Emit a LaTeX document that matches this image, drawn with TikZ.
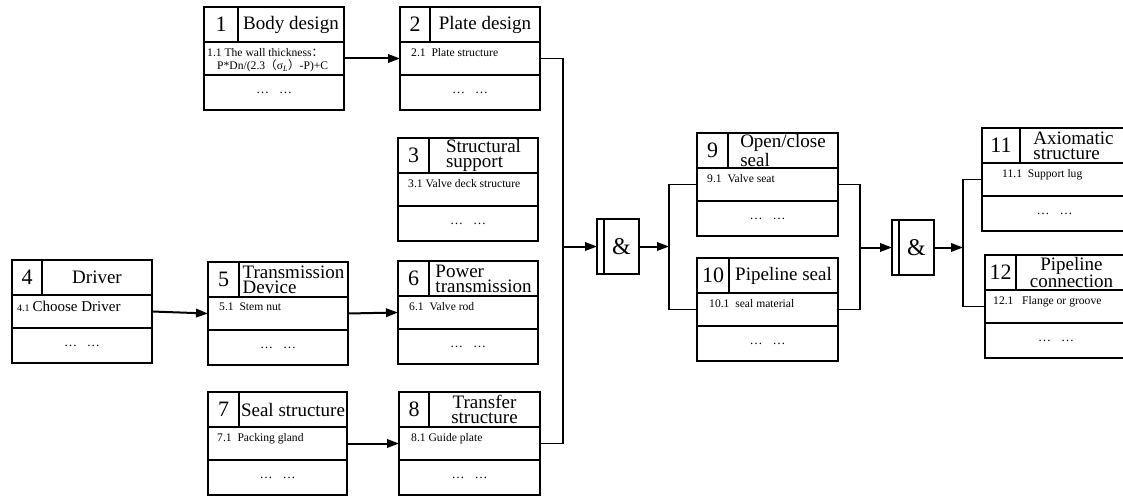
\documentclass[tikz,border=0pt]{standalone}
\usepackage{fontspec}
\setmainfont{Liberation Serif}
\newfontfamily\cjkfont{Noto Sans CJK SC}
\usetikzlibrary{arrows.meta,positioning}

\tikzset{
  cell/.style={draw, line width=2.2pt, inner sep=0pt, outer sep=0pt},
  numcell/.style={cell, minimum height=35pt, font=\fontsize{22}{22}\selectfont},
  titlecell/.style={cell, minimum height=35pt, font=\fontsize{19}{15}\selectfont},
  itemcell/.style={cell, minimum height=33pt},
  dotcell/.style={cell, minimum height=35pt, font=\fontsize{13}{13}\selectfont},
  itemtext/.style={anchor=north west, inner sep=0pt, align=left, font=\fontsize{11.6}{13.5}\selectfont},
  gatestrip/.style={cell, minimum width=7pt, minimum height=55pt},
  gatecell/.style={cell, minimum width=35pt, minimum height=55pt, font=\fontsize{24}{24}\selectfont},
  link/.style={line width=1.2pt},
  flow/.style={line width=2pt, -{Triangle[length=12pt,width=8.5pt]}}
}

% #1 name, #2 position, #3 number width, #4 width, #5 number,
% #6 title alignment, #7 title, #8 item text, #9 item indent
\newcommand{\partbox}[9]{%
  \node[numcell, minimum width=#3pt, anchor=north west] (#1n) at #2 {#5};
  \node[titlecell, minimum width=#4pt-#3pt, anchor=north west, align=#6] (#1t) at (#1n.north east) {#7};
  \node[itemcell, minimum width=#4pt, anchor=north west] (#1) at (#1n.south west) {};
  \node[itemtext] (#1x) at ([xshift=#9pt, yshift=-6pt]#1.north west) {#8};
  \node[dotcell, minimum width=#4pt, anchor=north west] (#1d) at (#1.south west) {\ldots\hspace{10pt}\ldots};
}

\begin{document}
\begin{tikzpicture}[x=1pt, y=-1pt]
  \useasboundingbox (0,0) rectangle (1123,497);

  % left column
  \partbox{b1}{(204,7)}{34}{140}{1}{center}{Body design}
    {1.1 The wall thickness{\cjkfont ：}\\\hspace*{10pt}P*Dn/(2.3{\cjkfont （}σ\textsubscript{\textit{L}}{\cjkfont ）}-P)+C}{3}
  \partbox{b4}{(12,260)}{30}{140}{4}{center}{Driver}
    {{\fontsize{10}{10}\selectfont 4.1} {\fontsize{15}{15}\selectfont Choose Driver}}{5}
  \partbox{b5}{(208,262)}{31}{140}{5}{left}{Transmission\\Device}{5.1\ \ Stem nut}{11}
  \partbox{b7}{(208,392)}{31}{139}{7}{center}{Seal structure}{7.1\ \ Packing gland}{9}

  % second column
  \partbox{b2}{(400,7)}{30}{140}{2}{center}{Plate design}{2.1\ \ Plate structure}{11}
  \partbox{b3}{(398,138)}{31}{140}{3}{left}{Structural\\support}{3.1 Valve deck structure}{10}
  \partbox{b6}{(398,261)}{31}{140}{6}{left}{Power\\transmission}{6.1\ \ Valve rod}{11}
  \partbox{b8}{(399,392)}{30}{141}{8}{center}{Transfer\\structure}{8.1 Guide plate}{12}

  % seals
  \partbox{b9}{(697,133)}{31}{141}{9}{left}{Open/close\\seal}{9.1\ \ Valve seat}{10}
  \partbox{b10}{(697,258)}{32}{141}{10}{center}{Pipeline seal}{10.1\ \ seal material}{12}

  % right column
  \partbox{b11}{(982,128)}{38}{145}{11}{left}{Axiomatic\\structure}{11.1\ \ Support lug}{20}
  \partbox{b12}{(985,255)}{31}{142}{12}{center}{Pipeline\\connection}{12.1\ \ \ Flange or groove}{8}

  % and gates
  \node[gatestrip, anchor=north west] (g1s) at (597,219) {};
  \node[gatecell, anchor=north west] (g1) at (g1s.north east) {\&};
  \node[gatestrip, anchor=north west] (g2s) at (892,220) {};
  \node[gatecell, anchor=north west] (g2) at (g2s.north east) {\&};

  \coordinate (j1) at (563,246.5);
  \coordinate (j2) at (669,246.5);
  \coordinate (j3) at (860,247.5);
  \coordinate (j4) at (963,247.5);

  \draw[flow] (b1.east) -- (b2.west);
  \draw[flow] (b4.east) -- (b5.west);
  \draw[flow] (b5.east) -- (b6.west);
  \draw[flow] (b7.east) -- (b8.west);

  \draw[link] (b2.east) -| (j1) |- (b8.east);
  \draw[flow] (j1) -- (g1s.west);
  \draw[flow] (g1.east) -- (j2);
  \draw[link] (b9.west) -| (j2) |- (b10.west);
  \draw[link] (b9.east) -| (j3) |- (b10.east);
  \draw[flow] (j3) -- (g2s.west);
  \draw[flow] (g2.east) -- (j4);
  \draw[link] (b11.west) -| (j4) |- (b12.west);
\end{tikzpicture}
\end{document}
